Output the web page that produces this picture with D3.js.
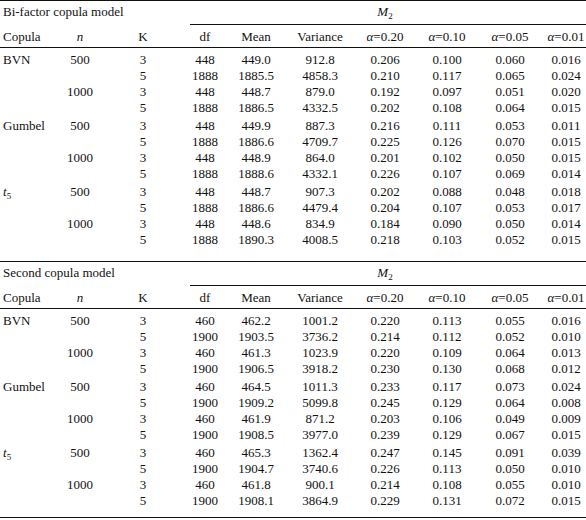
<!DOCTYPE html>
<html><head><meta charset="utf-8">
<script src="https://cdn.jsdelivr.net/npm/d3@7"></script>
<style>body{margin:0;background:#fff}text{font-family:"Liberation Serif",serif;font-size:13px;fill:#111}</style>
</head><body><svg id="c" width="586" height="520"></svg>
<script>
var models = ['Bi-factor copula model', 'Second copula model'];
var headers = ['df', 'Mean', 'Variance', '0.20', '0.10', '0.05', '0.01'];
var copulas = ['BVN', 'Gumbel', 't5'];
var sizes = ['500', '1000'];
var kValues = ['3', '5'];
var block1 = [
	['448','449.0','912.8','0.206','0.100','0.060','0.016'],
	['1888','1885.5','4858.3','0.210','0.117','0.065','0.024'],
	['448','448.7','879.0','0.192','0.097','0.051','0.020'],
	['1888','1886.5','4332.5','0.202','0.108','0.064','0.015'],
	['448','449.9','887.3','0.216','0.111','0.053','0.011'],
	['1888','1886.6','4709.7','0.225','0.126','0.070','0.015'],
	['448','448.9','864.0','0.201','0.102','0.050','0.015'],
	['1888','1888.6','4332.1','0.226','0.107','0.069','0.014'],
	['448','448.7','907.3','0.202','0.088','0.048','0.018'],
	['1888','1886.6','4479.4','0.204','0.107','0.053','0.017'],
	['448','448.6','834.9','0.184','0.090','0.050','0.014'],
	['1888','1890.3','4008.5','0.218','0.103','0.052','0.015']
];
var block2 = [
	['460','462.2','1001.2','0.220','0.113','0.055','0.016'],
	['1900','1903.5','3736.2','0.214','0.112','0.052','0.010'],
	['460','461.3','1023.9','0.220','0.109','0.064','0.013'],
	['1900','1906.5','3918.2','0.230','0.130','0.068','0.012'],
	['460','464.5','1011.3','0.233','0.117','0.073','0.024'],
	['1900','1909.2','5099.8','0.245','0.129','0.064','0.008'],
	['460','461.9','871.2','0.203','0.106','0.049','0.009'],
	['1900','1908.5','3977.0','0.239','0.129','0.067','0.015'],
	['460','465.3','1362.4','0.247','0.145','0.091','0.039'],
	['1900','1904.7','3740.6','0.226','0.113','0.050','0.010'],
	['460','461.8','900.1','0.214','0.108','0.055','0.010'],
	['1900','1908.1','3864.9','0.229','0.131','0.072','0.015']
];

var svg = d3.select('#c');
var colX = [205, 256, 320, 385, 447, 510, 566];

function rule(y, x1, x2) {
	svg.append('line').attr('x1', x1).attr('x2', x2).attr('y1', y).attr('y2', y)
		.attr('stroke', '#111').attr('stroke-width', 1);
}

function drawBlock(top, title, rows) {
	rule(top + 0.5, 0, 586);
	svg.append('text').attr('x', 3).attr('y', top + 16).text(title);
	var m = svg.append('text').attr('x', 385).attr('y', top + 16).attr('text-anchor', 'middle')
		.style('font-style', 'italic').text('M');
	m.append('tspan').attr('dy', 3).style('font-size', '9px').style('font-style', 'normal').text('2');
	rule(top + 24.5, 190, 586);
	var hy = top + 41;
	svg.append('text').attr('x', 3).attr('y', hy).text('Copula');
	svg.append('text').attr('x', 80).attr('y', hy).attr('text-anchor', 'middle').style('font-style', 'italic').text('n');
	svg.append('text').attr('x', 143).attr('y', hy).attr('text-anchor', 'middle').text('K');
	headers.forEach(function(h, i) {
		var t = svg.append('text').attr('x', colX[i]).attr('y', hy).attr('text-anchor', 'middle');
		if (i < 3) t.text(h);
		else { t.append('tspan').style('font-style', 'italic').text('\u03b1'); t.append('tspan').text('=' + h); }
	});
	rule(top + 47.5, 0, 586);
	rows.forEach(function(r, i) {
		var g = Math.floor(i / 4), y = top + 64 + i * 16 + g * 2;
		if (i % 4 == 0) {
			var c = svg.append('text').attr('x', 3).attr('y', y);
			if (copulas[g] == 't5') {
				c.append('tspan').style('font-style', 'italic').text('t');
				c.append('tspan').attr('dy', 3).style('font-size', '9px').text('5');
			} else c.text(copulas[g]);
		}
		if (i % 2 == 0)
			svg.append('text').attr('x', 80).attr('y', y).attr('text-anchor', 'middle').text(sizes[(i / 2) % 2]);
		svg.append('text').attr('x', 143).attr('y', y).attr('text-anchor', 'middle').text(kValues[i % 2]);
		r.forEach(function(v, j) {
			svg.append('text').attr('x', colX[j]).attr('y', y).attr('text-anchor', 'middle').text(v);
		});
	});
}

drawBlock(0, models[0], block1);
drawBlock(261, models[1], block2);
rule(517.5, 0, 586);
</script></body></html>
